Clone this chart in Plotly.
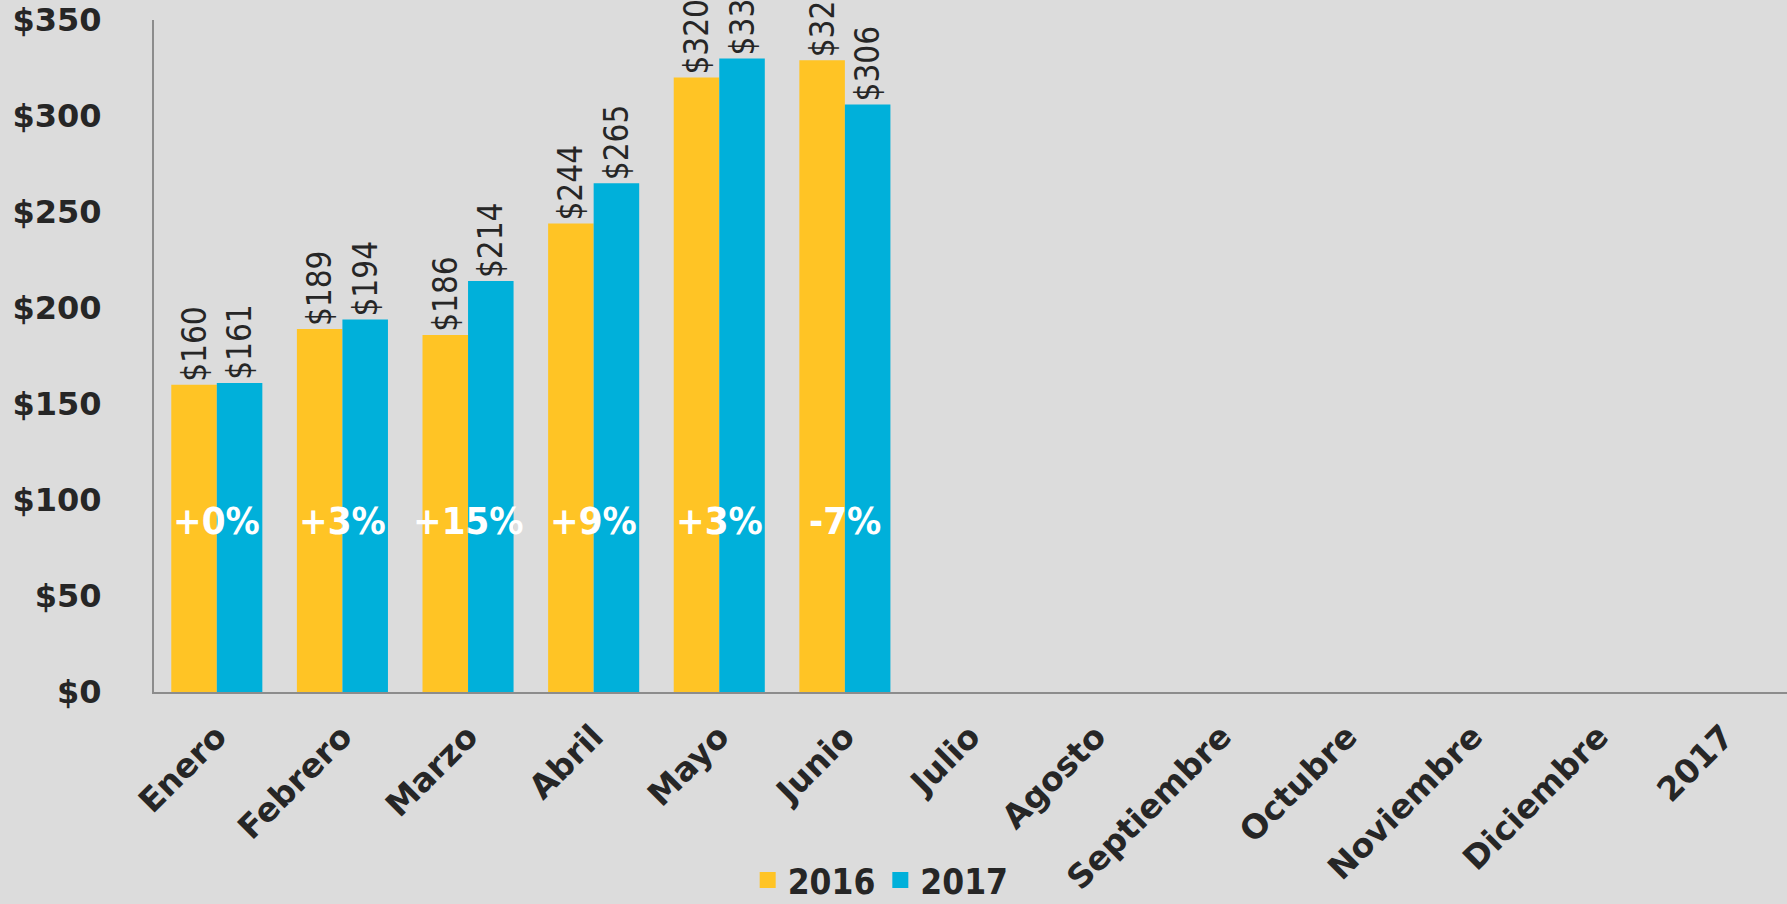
import plotly.graph_objects as go

categories = ["Enero", "Febrero", "Marzo", "Abril", "Mayo", "Junio", "Julio",
              "Agosto", "Septiembre", "Octubre", "Noviembre", "Diciembre", "2017"]
months_with_data = ["Enero", "Febrero", "Marzo", "Abril", "Mayo", "Junio"]
values_2016 = [160, 189, 186, 244, 320, 329]
values_2017 = [161, 194, 214, 265, 330, 306]
pct_labels = ["+0%", "+3%", "+15%", "+9%", "+3%", "-7%"]
pct_label_y = 89
y_ticks = [0, 50, 100, 150, 200, 250, 300, 350]
y_tick_text = ["$" + str(v) for v in y_ticks]
series_names = ["2016", "2017"]

YELLOW = "#FFC425"
BLUE = "#00B0DA"
TEXT = "#262626"
BG = "#DCDCDC"
COND = "DejaVu Sans Condensed, DejaVu Sans, sans-serif"
WIDE = "DejaVu Sans, sans-serif"

fig = go.Figure()
for name, vals, col in zip(series_names, [values_2016, values_2017], [YELLOW, BLUE]):
    fig.add_trace(go.Bar(
        x=months_with_data, y=vals, name=name, marker=dict(color=col, line=dict(width=0)),
        text=["$" + str(v) for v in vals], textposition="outside", textangle=-90,
        textfont=dict(family=COND, size=33, color=TEXT), constraintext="none",
        cliponaxis=False, showlegend=False,
    ))
# legend entries with larger square swatches
for name, col in zip(series_names, [YELLOW, BLUE]):
    fig.add_trace(go.Scatter(
        x=[None], y=[None], name=name, mode="markers",
        marker=dict(symbol="square", size=22, color=col), showlegend=True,
    ))

for m, t in zip(months_with_data, pct_labels):
    fig.add_annotation(x=m, y=pct_label_y, text=t, showarrow=False,
                       font=dict(family=COND, size=38, color="white", weight="bold"))

fig.update_layout(
    width=1787, height=904,
    paper_bgcolor=BG, plot_bgcolor=BG,
    margin=dict(l=154, r=0, t=20, b=212, autoexpand=False),
    barmode="group", bargap=0.275, bargroupgap=0,
    showlegend=True,
    legend=dict(orientation="h", x=0.445, xanchor="center", y=-0.28, yanchor="middle",
                font=dict(family=COND, size=35, color=TEXT, weight="bold"),
                bgcolor="rgba(0,0,0,0)", itemwidth=30),
    xaxis=dict(categoryorder="array", categoryarray=categories, range=[-0.5, 12.5],
               tickangle=-45, tickfont=dict(family=WIDE, size=33, color=TEXT, weight="bold"),
               showline=True, linecolor="#8C8C8C", linewidth=2, showgrid=False,
               ticks="", ticklabelstandoff=10, zeroline=False, automargin=False),
    yaxis=dict(range=[0, 350], tickvals=y_ticks, ticktext=y_tick_text,
               tickfont=dict(family=WIDE, size=32, color=TEXT, weight="bold"),
               showline=True, linecolor="#8C8C8C", linewidth=2, showgrid=False,
               ticks="", ticklabelstandoff=44, zeroline=False, automargin=False),
)

fig.write_html("out.html", config={"displayModeBar": False},
               post_script="document.body.style.margin='0';document.body.style.overflow='hidden';")
